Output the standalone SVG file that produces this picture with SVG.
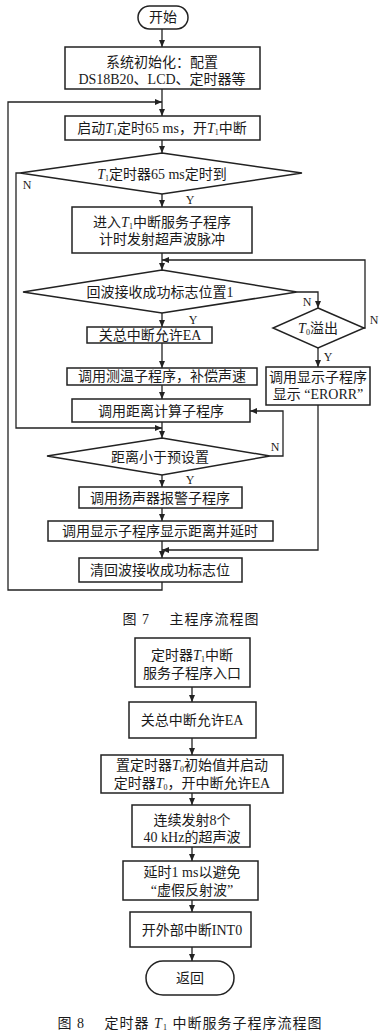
<svg xmlns="http://www.w3.org/2000/svg" width="386" height="1036" viewBox="0 0 386 1036">
<defs>
<marker id="ah" markerWidth="8" markerHeight="8" refX="7" refY="4" orient="auto" markerUnits="userSpaceOnUse">
<path d="M0,1 L7,4 L0,7 Z" fill="#222"/>
</marker>
<style>
.s{fill:#fff;stroke:#222;stroke-width:1.5}
.c{fill:none;stroke:#222;stroke-width:1.3}
text{font-family:'Liberation Serif','Noto Sans CJK SC',serif;font-size:14px;fill:#1a1a1a;text-anchor:middle}
.l{font-size:12px}
.i{font-style:italic}
.sub{font-size:8px}
.cap{font-size:14px;letter-spacing:1px}
</style>
</defs>
<rect width="386" height="1036" fill="#fff"/>

<g id="connectors">
<path class="c" d="M162,29 V47" marker-end="url(#ah)"/>
<path class="c" d="M162,89 V116" marker-end="url(#ah)"/>
<path class="c" d="M162,582 V590 H8 V102 H162" marker-end="url(#ah)"/>
<path class="c" d="M162,140 V153" marker-end="url(#ah)"/>
<path class="c" d="M162,194 V207" marker-end="url(#ah)"/>
<path class="c" d="M20,173 H16 V428 H162" marker-end="url(#ah)"/>
<path class="c" d="M162,253 V270" marker-end="url(#ah)"/>
<path class="c" d="M364,328 H365 V260 H162" marker-end="url(#ah)"/>
<path class="c" d="M297,292 H318 V308" marker-end="url(#ah)"/>
<path class="c" d="M162,313 V327" marker-end="url(#ah)"/>
<path class="c" d="M162,343 V368" marker-end="url(#ah)"/>
<path class="c" d="M318,348 V367" marker-end="url(#ah)"/>
<path class="c" d="M162,385 V399" marker-end="url(#ah)"/>
<path class="c" d="M162,422 V438" marker-end="url(#ah)"/>
<path class="c" d="M270,456 H283 V411 H250" marker-end="url(#ah)"/>
<path class="c" d="M162,475 V487" marker-end="url(#ah)"/>
<path class="c" d="M162,508 V521" marker-end="url(#ah)"/>
<path class="c" d="M162,541 V558" marker-end="url(#ah)"/>
<path class="c" d="M318,405 V550 H162" marker-end="url(#ah)"/>

<path class="c" d="M192,687 V702" marker-end="url(#ah)"/>
<path class="c" d="M192,738 V755" marker-end="url(#ah)"/>
<path class="c" d="M192,793 V805" marker-end="url(#ah)"/>
<path class="c" d="M192,847 V861" marker-end="url(#ah)"/>
<path class="c" d="M192,900 V912" marker-end="url(#ah)"/>
<path class="c" d="M192,947 V961" marker-end="url(#ah)"/>

<text class="l" x="27" y="189">N</text>
<text class="l" x="190" y="204">Y</text>
<text class="l" x="307" y="306">N</text>
<text class="l" x="374" y="324">N</text>
<text class="l" x="193" y="324">Y</text>
<text class="l" x="328" y="361">Y</text>
<text class="l" x="275" y="451">N</text>
<text class="l" x="190" y="484">Y</text>
</g>

<g id="start">
<rect class="s" x="138" y="6" width="50" height="23" rx="11.5"/>
<text x="163" y="22">开始</text>
</g>
<g id="init">
<rect class="s" x="65" y="47" width="195" height="42"/>
<text x="162" y="67">系统初始化：配置</text>
<text x="162" y="84">DS18B20、LCD、定时器等</text>
</g>
<g id="startT1">
<rect class="s" x="65" y="116" width="195" height="24"/>
<text x="162" y="133">启动<tspan class="i">T</tspan><tspan class="sub" dy="2">1</tspan><tspan dy="-2">定时65 ms，开</tspan><tspan class="i">T</tspan><tspan class="sub" dy="2">1</tspan><tspan dy="-2">中断</tspan></text>
</g>
<g id="d1">
<polygon class="s" points="162,153 302,173 162,194 20,173"/>
<text x="162" y="179"><tspan class="i">T</tspan><tspan class="sub" dy="2">1</tspan><tspan dy="-2">定时器65 ms定时到</tspan></text>
</g>
<g id="enterT1">
<rect class="s" x="72" y="207" width="180" height="46"/>
<text x="162" y="227">进入<tspan class="i">T</tspan><tspan class="sub" dy="2">1</tspan><tspan dy="-2">中断服务子程序</tspan></text>
<text x="162" y="244">计时发射超声波脉冲</text>
</g>
<g id="d2">
<polygon class="s" points="162,270 297,292 162,313 23,292"/>
<text x="160" y="297">回波接收成功标志位置1</text>
</g>
<g id="d3">
<polygon class="s" points="318,308 364,328 318,348 273,328"/>
<text x="318" y="333"><tspan class="i">T</tspan><tspan class="sub" dy="2">0</tspan><tspan dy="-2">溢出</tspan></text>
</g>
<g id="closeEA">
<rect class="s" x="87" y="327" width="125" height="16"/>
<text x="150" y="340">关总中断允许EA</text>
</g>
<g id="temp">
<rect class="s" x="67" y="368" width="190" height="17"/>
<text x="162" y="381">调用测温子程序，补偿声速</text>
</g>
<g id="err">
<rect class="s" x="266" y="367" width="104" height="38"/>
<text x="318" y="382">调用显示子程序</text>
<text x="318" y="399">显示 “ERORR”</text>
</g>
<g id="dist">
<rect class="s" x="72" y="399" width="178" height="23"/>
<text x="161" y="416">调用距离计算子程序</text>
</g>
<g id="d4">
<polygon class="s" points="162,438 270,456 162,475 47,456"/>
<text x="160" y="462">距离小于预设置</text>
</g>
<g id="alarm">
<rect class="s" x="79" y="487" width="163" height="21"/>
<text x="160" y="503">调用扬声器报警子程序</text>
</g>
<g id="show">
<rect class="s" x="48" y="521" width="225" height="20"/>
<text x="160" y="536">调用显示子程序显示距离并延时</text>
</g>
<g id="clear">
<rect class="s" x="79" y="558" width="163" height="24"/>
<text x="160" y="575">清回波接收成功标志位</text>
</g>
<g id="cap7">
<text class="cap" x="191" y="624">图 7　 主程序流程图</text>
</g>

<g id="entry">
<rect class="s" x="135" y="638" width="115" height="49"/>
<text x="192" y="660">定时器<tspan class="i">T</tspan><tspan class="sub" dy="2">1</tspan><tspan dy="-2">中断</tspan></text>
<text x="192" y="678">服务子程序入口</text>
</g>
<g id="closeEA2">
<rect class="s" x="129" y="702" width="127" height="36"/>
<text x="192" y="725">关总中断允许EA</text>
</g>
<g id="setT0">
<rect class="s" x="101" y="755" width="182" height="38"/>
<text x="192" y="770">置定时器<tspan class="i">T</tspan><tspan class="sub" dy="2">0</tspan><tspan dy="-2">初始值并启动</tspan></text>
<text x="192" y="788">定时器<tspan class="i">T</tspan><tspan class="sub" dy="2">0</tspan><tspan dy="-2">，开中断允许EA</tspan></text>
</g>
<g id="emit">
<rect class="s" x="132" y="805" width="118" height="42"/>
<text x="192" y="825">连续发射8个</text>
<text x="192" y="842">40 kHz的超声波</text>
</g>
<g id="delay">
<rect class="s" x="123" y="861" width="135" height="39"/>
<text x="192" y="877">延时1 ms以避免</text>
<text x="192" y="895">“虚假反射波”</text>
</g>
<g id="int0">
<rect class="s" x="130" y="912" width="121" height="35"/>
<text x="192" y="935">开外部中断INT0</text>
</g>
<g id="ret">
<rect class="s" x="146" y="961" width="88" height="34" rx="17"/>
<text x="190" y="983">返回</text>
</g>
<g id="cap8">
<text class="cap" x="190" y="1028">图 8　 定时器 <tspan class="i">T</tspan><tspan class="sub" dy="2">1</tspan><tspan dy="-2"> 中断服务子程序流程图</tspan></text>
</g>
</svg>
